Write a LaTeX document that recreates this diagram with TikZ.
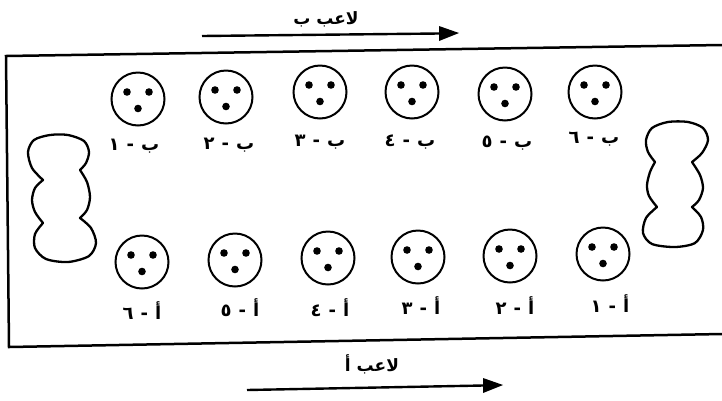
\documentclass[tikz,border=0pt]{standalone}
\usepackage{fontspec}
\newfontfamily\arabicfont[Script=Arabic]{DejaVu Sans}
\TeXXeTstate=1
\usetikzlibrary{arrows.meta,calc}
\newcommand{\arlbl}[1]{\arabicfont\beginR #1\endR}
\begin{document}
\begin{tikzpicture}[x=1pt,y=-1pt,
  player/.style={circle,draw,line width=2pt,minimum size=53pt,inner sep=0pt},
  lbl/.style={font=\arabicfont\bfseries\fontsize{18}{20}\selectfont,inner sep=0pt},
  toplbl/.style={font=\arabicfont\bfseries\fontsize{17}{19}\selectfont,inner sep=0pt},
  frame/.style={line width=2.5pt},
  goal/.style={line width=2.3pt,line join=round},
  dirline/.style={line width=2.4pt},
  dirhead/.style={fill=black}]
\useasboundingbox (0,0) rectangle (722,400);

% pitch frame (open at the right)
\coordinate (fTR) at (722,45);
\coordinate (fTL) at (6,56);
\coordinate (fBL) at (9,347);
\coordinate (fBR) at (722,334);
\draw[frame] (fTR) -- (fTL) -- (fBL) -- (fBR);

% goals
\draw[goal] plot[smooth] coordinates {(43,180) (32,168) (28,152) (34,140) (50,135) (68,135) (84,141) (89,152) (86,163) (80,170)}
  -- plot[smooth] coordinates {(80,170) (87,182) (90,197) (87,210) (80,218)}
  -- plot[smooth] coordinates {(80,218) (91,228) (96,243) (89,256) (68,262) (46,259) (35,248) (35,234) (43,223)}
  -- plot[smooth] coordinates {(43,223) (35,212) (32,200) (35,188) (43,180)} -- cycle;
\draw[goal] plot[smooth] coordinates {(655,162) (648,152) (646,140) (652,128) (668,122) (688,122) (703,128) (708,140) (702,153) (692,162)}
  -- plot[smooth] coordinates {(692,162) (700,175) (703,188) (699,200) (692,207)}
  -- plot[smooth] coordinates {(692,207) (701,217) (703,230) (695,243) (675,247) (652,244) (643,233) (646,218) (657,207)}
  -- plot[smooth] coordinates {(657,207) (649,196) (647,185) (650,172) (655,162)} -- cycle;

% players B (top row)
\node[player] (b1) at (138,99) {};
\node[player] (b2) at (226,97) {};
\node[player] (b3) at (320,92) {};
\node[player] (b4) at (412,92) {};
\node[player] (b5) at (505,94) {};
\node[player] (b6) at (595,92) {};
% players A (bottom row)
\node[player] (a6) at (142,262) {};
\node[player] (a5) at (235,260) {};
\node[player] (a4) at (328,258) {};
\node[player] (a3) at (418,257) {};
\node[player] (a2) at (510,256) {};
\node[player] (a1) at (603,254) {};

\foreach \n in {b1,b2,b3,b4,b5,b6,a1,a2,a3,a4,a5,a6}{
  \fill ($(\n)+(-11,-7)$) circle[radius=3.8pt];
  \fill ($(\n)+(11,-7)$) circle[radius=3.8pt];
  \fill ($(\n)+(0,9.5)$) circle[radius=3.8pt];
}

% labels B
\node[lbl] (lb1) at (134,146) {\arlbl{ب\hspace{7pt}-\hspace{7pt}١}};
\node[lbl] (lb2) at (229,145) {\arlbl{ب\hspace{7pt}-\hspace{7pt}٢}};
\node[lbl] (lb3) at (320,142) {\arlbl{ب\hspace{7pt}-\hspace{7pt}٣}};
\node[lbl] (lb4) at (410,142) {\arlbl{ب\hspace{7pt}-\hspace{7pt}٤}};
\node[lbl] (lb5) at (507,143) {\arlbl{ب\hspace{7pt}-\hspace{7pt}٥}};
\node[lbl] (lb6) at (594,139) {\arlbl{ب\hspace{7pt}-\hspace{7pt}٦}};
% labels A
\node[lbl] (la6) at (142,311) {\arlbl{أ\hspace{7pt}-\hspace{7pt}٦}};
\node[lbl] (la5) at (240,308) {\arlbl{أ\hspace{7pt}-\hspace{7pt}٥}};
\node[lbl] (la4) at (330,308) {\arlbl{أ\hspace{7pt}-\hspace{7pt}٤}};
\node[lbl] (la3) at (421,306) {\arlbl{أ\hspace{7pt}-\hspace{7pt}٣}};
\node[lbl] (la2) at (515,306) {\arlbl{أ\hspace{7pt}-\hspace{7pt}٢}};
\node[lbl] (la1) at (610,304) {\arlbl{أ\hspace{7pt}-\hspace{7pt}١}};

% direction arrows
\coordinate (tB) at (202,36);
\coordinate (eB) at (439,33.5);
\coordinate (hB) at (459,33);
\draw[dirline] (tB) -- (eB);
\fill[dirhead] (hB) -- ($(eB)+(0,-7.5)$) -- ($(eB)+(0,7.5)$) -- cycle;
\node[toplbl] (playerB) at (326,19) {\arlbl{لاعب ب}};
\coordinate (tA) at (247,390);
\coordinate (eA) at (483,385.5);
\coordinate (hA) at (503,385);
\draw[dirline] (tA) -- (eA);
\fill[dirhead] (hA) -- ($(eA)+(0,-7.5)$) -- ($(eA)+(0,7.5)$) -- cycle;
\node[toplbl] (playerA) at (372,364) {\arlbl{لاعب أ}};
\end{tikzpicture}
\end{document}
